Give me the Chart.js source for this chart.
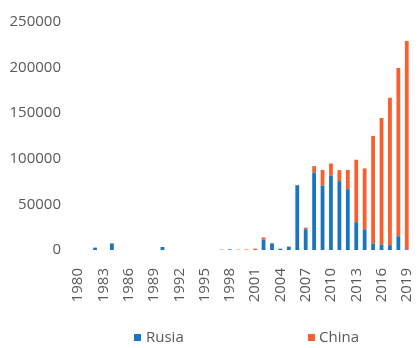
<!DOCTYPE html>
<html>
<head>
<meta charset="utf-8">
<script src="https://cdn.jsdelivr.net/npm/chart.js@4/dist/chart.umd.min.js"></script>
<style>
  html, body { margin: 0; padding: 0; background: #fff; }
  #wrap { position: relative; width: 419px; height: 348px; }
  #legend span { position: absolute; font: 15px "Open Sans", sans-serif; color: #595959; line-height: 15px; }
  #legend .box { width: 7px; height: 7px; }
</style>
</head>
<body>
<div id="wrap">
  <canvas id="chart" width="419" height="348"></canvas>
  <div id="legend">
    <span class="box" style="left:134px;top:334px;background:#1a75bf"></span>
    <span style="left:146px;top:329px">Rusia</span>
    <span class="box" style="left:308px;top:334px;background:#f8602f"></span>
    <span style="left:319px;top:329px">China</span>
  </div>
</div>
<script>
// years shown on the x axis
const years = [];
for (let y = 1980; y <= 2019; y++) years.push(String(y));

// values
const russia = [
  0, 0, 2600, 0, 7200, 0, 0, 0, 0, 0,
  3300, 0, 0, 0, 0, 0, 0, 400, 700, 0,
  0, 0, 11400, 7200, 1400, 3300, 71000, 22700, 84800, 70600,
  81600, 75600, 66700, 30500, 22700, 7100, 5700, 5300, 14900, 800
];
const china = [
  0, 0, 0, 0, 0, 0, 0, 0, 0, 0,
  0, 0, 0, 0, 0, 0, 0, 0, 0, 400,
  600, 1500, 2400, 300, 0, 600, 400, 1800, 7200, 17100,
  13200, 12000, 21000, 68500, 66800, 118000, 139000, 161700, 184600, 228500
];

const yTicks = [0, 50000, 100000, 150000, 200000, 250000];
const textColor = '#595959';
const font = { family: '"Open Sans", sans-serif', size: 15 };

const ctx = document.getElementById('chart');
new Chart(ctx, {
  type: 'bar',
  data: {
    labels: years,
    datasets: [
      { label: 'Rusia', data: russia, backgroundColor: '#1a75bf' },
      { label: 'China', data: china, backgroundColor: '#f8602f' }
    ]
  },
  options: {
    responsive: false,
    animation: false,
    datasets: { bar: { categoryPercentage: 1, barPercentage: 0.45 } },
    layout: { padding: { top: 14, right: 8, left: 0, bottom: 0 } },
    plugins: { legend: { display: false }, tooltip: { enabled: false } },
    scales: {
      x: {
        stacked: true,
        grid: { display: false, drawTicks: false },
        border: { display: false },
        ticks: {
          autoSkip: false,
          minRotation: 90,
          maxRotation: 90,
          padding: 18,
          color: textColor,
          font: font,
          callback: (v, i) => (i % 3 === 0 ? years[i] : '')
        },
        afterFit: (scale) => {
          scale.height = 98;
          scale.paddingLeft = 0;
          scale.paddingRight = 0;
        }
      },
      y: {
        stacked: true,
        min: yTicks[0],
        max: yTicks[yTicks.length - 1],
        grid: { display: false, drawTicks: false },
        border: { display: false },
        ticks: {
          stepSize: 50000,
          padding: 13,
          color: textColor,
          font: font,
          callback: (v) => String(v)
        },
        afterFit: (scale) => { scale.width = 74; }
      }
    }
  }
});
</script>
</body>
</html>
